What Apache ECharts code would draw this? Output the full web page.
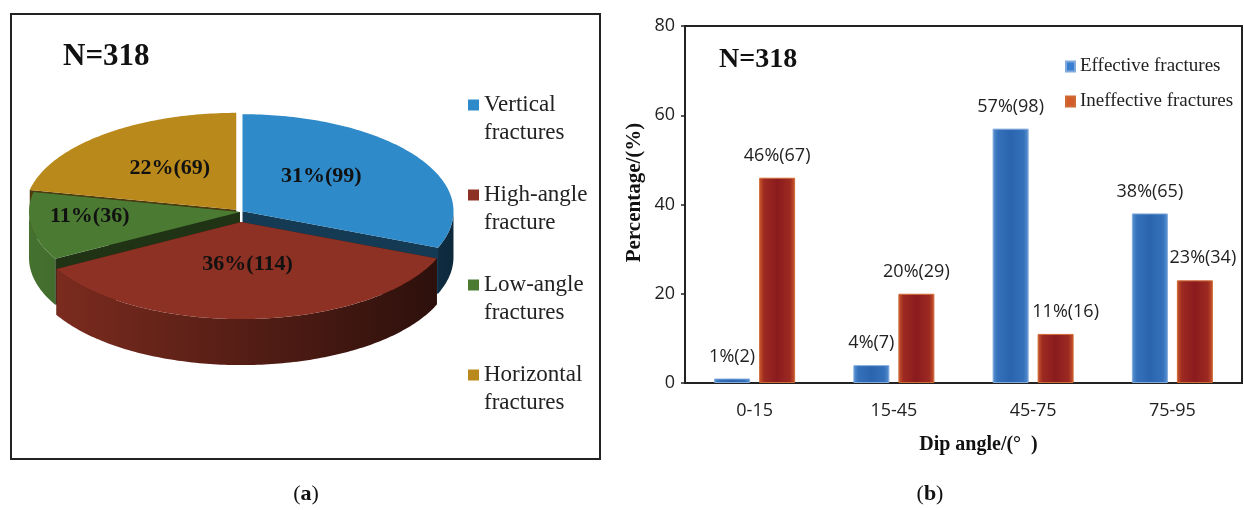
<!DOCTYPE html>
<html>
<head>
<meta charset="utf-8">
<script src="https://cdn.jsdelivr.net/npm/echarts@6/dist/echarts.min.js"></script>
<style>
  html, body { margin: 0; padding: 0; background: #fff; }
  #chart { width: 1244px; height: 510px; }
</style>
</head>
<body>
<div id="chart"></div>
<script>
// ---- data: fracture types (pie) ----
const pieNames = ['Vertical fractures', 'High-angle fracture', 'Low-angle fractures', 'Horizontal fractures'];
const pieCounts = [99, 114, 36, 69];
const sampleSize = 318;

// ---- data: dip angle distribution (bars) ----
const dipCategories = ['0-15', '15-45', '45-75', '75-95'];
const effectivePct = [1, 4, 57, 38];
const effectiveCount = [2, 7, 98, 65];
const ineffectivePct = [46, 20, 11, 23];
const ineffectiveCount = [67, 29, 16, 34];
const barSeriesNames = ['Effective fractures', 'Ineffective fractures'];

// ---- styling ----
const SERIF = '"Liberation Serif", "Times New Roman", serif';
const SANS = '"Open Sans", "Noto Sans", sans-serif';
const pieColors = ['#2f8ac9', '#8c3123', '#4b7b33', '#b98a1b'];
const pieExplode = [3, 22, 0, 6];            // radial pull-out of each slice
const pieLabelRadius = [0.45, 0.5, 0.72, 0.5];
const pieLabelLift = [11, 6, 6, 4];
const pieDrawRank = [1, 3, 2, 0];            // back-to-front painting order
const PIE = { cx: 240, cy: 212, rx: 211, ry: 97, depth: 46 };
const ineffLabelShift = [0, 0, 10, 8];

function shade(hex, f) {
  const n = parseInt(hex.slice(1), 16);
  const r = Math.round(((n >> 16) & 255) * f);
  const g = Math.round(((n >> 8) & 255) * f);
  const b = Math.round((n & 255) * f);
  return 'rgb(' + r + ',' + g + ',' + b + ')';
}

// 3D pie slice: radial faces, front wall and top face on a tilted ellipse
function renderSlice(i, params, api) {
  const total = pieCounts.reduce((a, b) => a + b, 0);
  let before = 0;
  for (let k = 0; k < i; k++) before += pieCounts[k];
  const value = api.value(0);
  const a0 = before / total * 2 * Math.PI - Math.PI / 2;
  const a1 = (before + value) / total * 2 * Math.PI - Math.PI / 2;
  const am = (a0 + a1) / 2;
  const ox = PIE.cx + pieExplode[i] * Math.cos(am);
  const oy = PIE.cy + pieExplode[i] * Math.sin(am) * PIE.ry / PIE.rx;
  const pt = (a, h) => [ox + PIE.rx * Math.cos(a), oy + PIE.ry * Math.sin(a) + h];
  const arc = (from, to, h) => {
    const n = Math.max(2, Math.ceil(Math.abs(to - from) / (Math.PI / 180)));
    const pts = [];
    for (let k = 0; k <= n; k++) pts.push(pt(from + (to - from) * k / n, h));
    return pts;
  };
  const base = pieColors[i];
  const rank = pieDrawRank[i];
  const children = [];
  [a0, a1].forEach(a => {
    children.push({
      type: 'polygon', z2: rank * 10,
      shape: { points: [[ox, oy], pt(a, 0), pt(a, PIE.depth), [ox, oy + PIE.depth]] },
      style: { fill: shade(base, 0.42) }
    });
  });
  const w0 = Math.max(a0, 0), w1 = Math.min(a1, Math.PI);
  if (w1 > w0) {
    children.push({
      type: 'polygon', z2: rank * 10 + 1,
      shape: { points: arc(w0, w1, 0).concat(arc(w1, w0, PIE.depth)) },
      style: {
        fill: new echarts.graphic.LinearGradient(PIE.cx - PIE.rx, 0, PIE.cx + PIE.rx, 0, [
          { offset: 0, color: shade(base, 0.92) },
          { offset: 1, color: shade(base, 0.3) }
        ], true)
      }
    });
  }
  children.push({
    type: 'polygon', z2: 50 + rank,
    shape: { points: [[ox, oy]].concat(arc(a0, a1, 0)) },
    style: { fill: base }
  });
  const k = pieLabelRadius[i];
  children.push({
    type: 'text', z2: 100,
    x: ox + k * PIE.rx * Math.cos(am),
    y: oy + k * PIE.ry * Math.sin(am) - pieLabelLift[i],
    style: {
      text: Math.round(value / total * 100) + '%(' + value + ')',
      font: 'bold 22px ' + SERIF, fill: '#111',
      align: 'center', verticalAlign: 'middle'
    }
  });
  return { type: 'group', children: children };
}

const pieSeries = pieNames.map((name, i) => ({
  type: 'custom',
  name: name,
  coordinateSystem: 'none',
  silent: true,
  itemStyle: { color: pieColors[i] },
  data: [[pieCounts[i]]],
  renderItem: (params, api) => renderSlice(i, params, api)
}));

const blueFill = new echarts.graphic.LinearGradient(0, 0, 1, 0, [
  { offset: 0, color: '#5b93d2' }, { offset: 0.14, color: '#3471ba' },
  { offset: 0.5, color: '#2b64ae' }, { offset: 0.86, color: '#3471ba' },
  { offset: 1, color: '#5b93d2' }
]);
const redFill = new echarts.graphic.LinearGradient(0, 0, 1, 0, [
  { offset: 0, color: '#c9572c' }, { offset: 0.14, color: '#9d2a21' },
  { offset: 0.5, color: '#8a1b1e' }, { offset: 0.86, color: '#9d2a21' },
  { offset: 1, color: '#c9572c' }
]);

const barLabel = {
  show: true, position: 'top', distance: 13,
  fontFamily: SANS, fontSize: 18, color: '#222',
  formatter: p => p.value + '%(' + p.data.count + ')'
};

const option = {
  backgroundColor: '#fff',
  animation: false,
  grid: {
    left: 685, right: 2, top: 26, bottom: 127,
    show: true, borderColor: '#222', borderWidth: 2
  },
  legend: [
    {
      data: pieNames.map((n, i) => ({ name: n, itemStyle: { color: pieColors[i] } })),
      orient: 'vertical', left: 463, top: 58,
      itemWidth: 11, itemHeight: 11, itemGap: 6, icon: 'rect',
      selectedMode: false,
      // blank first line keeps the swatch level with the first text line
      formatter: n => '\n' + n.replace(' ', '\n'),
      textStyle: { fontFamily: SERIF, fontSize: 23, color: '#222', lineHeight: 28 }
    },
    {
      data: [
        { name: barSeriesNames[0], itemStyle: { color: '#3a7fcf' } },
        { name: barSeriesNames[1], itemStyle: { color: '#d35d2a' } }
      ],
      orient: 'vertical', left: 1060, top: 52,
      itemWidth: 9, itemHeight: 10, itemGap: 16, icon: 'rect',
      selectedMode: false,
      textStyle: { fontFamily: SERIF, fontSize: 19, color: '#222' }
    }
  ],
  xAxis: {
    type: 'category',
    data: dipCategories,
    axisLine: { lineStyle: { color: '#222', width: 2 } },
    axisTick: { inside: true, length: 6, lineStyle: { color: '#222', width: 2 } },
    axisLabel: { fontFamily: SANS, fontSize: 18, color: '#222', margin: 19 },
    name: 'Dip angle/(°  )',
    nameLocation: 'middle', nameGap: 52,
    nameTextStyle: { fontFamily: SERIF, fontWeight: 'bold', fontSize: 20, color: '#111', padding: [0, 0, 0, 30] }
  },
  yAxis: {
    type: 'value', min: 0, max: 80, interval: 20,
    splitLine: { show: false },
    axisLine: { show: true, lineStyle: { color: '#222', width: 2 } },
    axisTick: { show: true, length: 4, lineStyle: { color: '#222', width: 1.5 } },
    axisLabel: { fontFamily: SANS, fontSize: 18, color: '#222', margin: 10 },
    name: 'Percentage/(%)',
    nameLocation: 'middle', nameGap: 40,
    nameTextStyle: { fontFamily: SERIF, fontWeight: 'bold', fontSize: 21, color: '#111', padding: [0, 0, 0, 24] }
  },
  graphic: [
    { type: 'rect', shape: { x: 11, y: 14, width: 589, height: 445 }, style: { fill: 'none', stroke: '#222', lineWidth: 2 } },
    { type: 'text', x: 63, y: 57, style: { text: 'N=' + sampleSize, font: 'bold 31px ' + SERIF, fill: '#111', verticalAlign: 'middle' } },
    { type: 'text', x: 719, y: 60, style: { text: 'N=' + sampleSize, font: 'bold 28px ' + SERIF, fill: '#111', verticalAlign: 'middle' } },
    { type: 'text', x: 306, y: 494, style: { text: '{p|(}{b|a}{p|)}', align: 'center', verticalAlign: 'middle',
        rich: { p: { fontFamily: SERIF, fontSize: 22, fill: '#111' }, b: { fontFamily: SERIF, fontSize: 22, fontWeight: 'bold', fill: '#111' } } } },
    { type: 'text', x: 930, y: 494, style: { text: '{p|(}{b|b}{p|)}', align: 'center', verticalAlign: 'middle',
        rich: { p: { fontFamily: SERIF, fontSize: 22, fill: '#111' }, b: { fontFamily: SERIF, fontSize: 22, fontWeight: 'bold', fill: '#111' } } } }
  ],
  series: pieSeries.concat([
    {
      name: barSeriesNames[0], type: 'bar', barWidth: 36, barGap: '25%',
      itemStyle: { color: blueFill, borderColor: '#80aadc', borderWidth: 1 },
      label: barLabel,
      data: effectivePct.map((v, j) => ({ value: v, count: effectiveCount[j] }))
    },
    {
      name: barSeriesNames[1], type: 'bar', barWidth: 36,
      itemStyle: { color: redFill, borderColor: '#cf6a35', borderWidth: 1 },
      label: barLabel,
      data: ineffectivePct.map((v, j) => ({
        value: v, count: ineffectiveCount[j],
        label: { offset: [ineffLabelShift[j], 0] }
      }))
    }
  ])
};

const chart = echarts.init(document.getElementById('chart'), null, { renderer: 'canvas' });
chart.setOption(option);
</script>
</body>
</html>
